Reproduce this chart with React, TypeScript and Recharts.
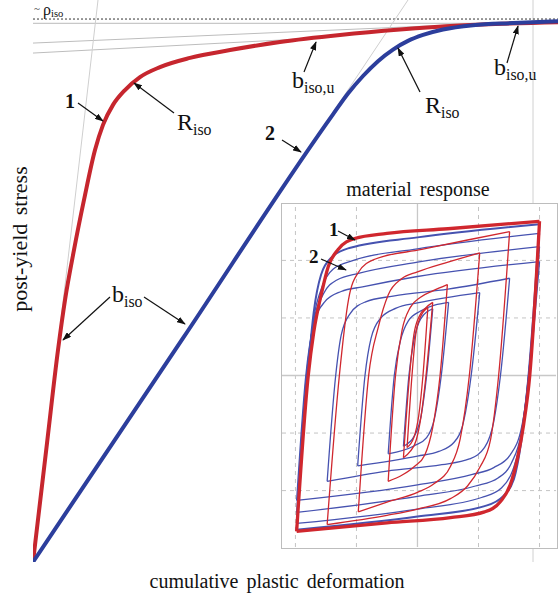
import { LineChart, Line, XAxis, YAxis, ReferenceLine } from 'recharts';

type Pt = [number, number];

// main chart: cumulative plastic deformation (x) vs post-yield stress (y)
const redCurve: Pt[] = [
  [0, 0], [0.56, 4.4], [1.0, 7.85], [1.28, 9.7], [1.64, 11.56], [2.04, 13.41], [2.48, 15.26],
  [2.8, 16.19], [3.2, 16.93], [3.68, 17.48], [4.28, 17.96], [5.08, 18.33], [6.28, 18.67],
  [7.88, 18.96], [9.88, 19.26], [12.28, 19.52], [14.68, 19.72], [17.08, 19.87], [21, 19.99]
];
const blueCurve: Pt[] = [
  [0, 0], [6, 8.29], [12, 16.58], [12.6, 17.35], [13.2, 18.0], [13.8, 18.55], [14.4, 18.98],
  [15.0, 19.3], [15.6, 19.52], [16.4, 19.72], [17.6, 19.88], [19.2, 19.96], [21, 20.03]
];
const tangentA: Pt[] = [[0, 19.22], [21, 20.06]];
const tangentB: Pt[] = [[0, 18.85], [10.68, 19.37]];
const tangentC: Pt[] = [[0, 0], [2.6, 20.815]];
const tangentD: Pt[] = [[0, 0], [15, 20.815]];
const rhoIso = 20.11;
const satLevel = 19.95;
const xTicks = [1, 2, 3, 4, 5, 6, 7, 8, 9, 10, 11, 12, 13, 14, 15, 16, 17, 18, 19, 20];
const yTicks = [1, 2, 3, 4, 5, 6, 7, 8, 9, 10, 11, 12, 13, 14, 15, 16, 17, 18, 19, 20];

// inset: hysteresis loops, upper (loading) and lower (unloading) branches
const r1Up: Pt[] = [[-1.98, -2.71], [-1.79, 0], [-1.7, 0.75], [-1.57, 1.44], [-1.46, 1.9], [-1.3, 2.19], [-1.03, 2.38], [-0.5, 2.47], [0.5, 2.55], [2.0, 2.68]];
const r1Dn: Pt[] = [[-1.98, -2.71], [-0.5, -2.56], [0.54, -2.47], [1.1, -2.37], [1.36, -2.19], [1.52, -1.9], [1.64, -1.43], [1.74, -0.85], [1.84, 0], [2.0, 2.68]];
const r2Up: Pt[] = [[-1.48, -2.59], [-1.28, 0], [-1.13, 1.32], [-0.97, 1.79], [-0.7, 2.02], [0.07, 2.19], [0.8, 2.35], [1.51, 2.5]];
const r2Dn: Pt[] = [[-1.48, -2.59], [-0.5, -2.43], [0, -2.32], [0.54, -2.14], [0.82, -1.92], [1.02, -1.6], [1.2, -1.1], [1.33, 0], [1.51, 2.5]];
const r3Up: Pt[] = [[-0.97, -2.37], [-0.8, 0], [-0.64, 0.85], [-0.48, 1.4], [-0.26, 1.68], [0, 1.8], [0.5, 1.97], [1.02, 2.13]];
const r3Dn: Pt[] = [[-0.97, -2.37], [-0.5, -2.2], [0, -2.03], [0.27, -1.88], [0.54, -1.58], [0.7, -1.1], [0.85, 0], [1.02, 2.13]];
const r4Up: Pt[] = [[-0.48, -1.84], [-0.36, 0], [-0.25, 0.8], [-0.12, 1.18], [0.05, 1.36], [0.25, 1.47], [0.49, 1.58]];
const r4Dn: Pt[] = [[-0.48, -1.84], [-0.25, -1.73], [-0.05, -1.58], [0.12, -1.38], [0.25, -0.9], [0.37, 0], [0.49, 1.58]];
const r5Up: Pt[] = [[-0.23, -1.43], [-0.13, 0], [-0.06, 0.7], [0.03, 1.03], [0.13, 1.17], [0.25, 1.27]];
const r5Dn: Pt[] = [[-0.23, -1.43], [-0.12, -1.32], [-0.02, -1.12], [0.06, -0.7], [0.14, 0], [0.25, 1.27]];
const r6Up: Pt[] = [[-0.17, -1.25], [-0.09, 0], [-0.03, 0.7], [0.05, 1.02], [0.17, 1.18]];
const r6Dn: Pt[] = [[-0.17, -1.25], [-0.06, -1.08], [0.02, -0.7], [0.09, 0], [0.17, 1.18]];

const b1Up: Pt[] = [[-1.98, -2.68], [-1.8, 0], [-1.7, 1.1], [-1.58, 1.75], [-1.4, 2.06], [-1.1, 2.22], [0, 2.4], [2.0, 2.63]];
const b1Dn: Pt[] = [[-1.98, -2.68], [0, -2.45], [1.1, -2.27], [1.4, -2.1], [1.58, -1.8], [1.7, -1.15], [1.82, 0], [2.0, 2.63]];
const b2Up: Pt[] = [[-1.98, -2.57], [-1.81, 0], [-1.7, 1.0], [-1.56, 1.55], [-1.38, 1.85], [-1.05, 2.0], [0, 2.2], [2.0, 2.47]];
const b2Dn: Pt[] = [[-1.98, -2.57], [0, -2.32], [1.05, -2.12], [1.38, -1.95], [1.56, -1.65], [1.7, -1.08], [1.82, 0], [2.0, 2.47]];
const b3Up: Pt[] = [[-1.98, -2.38], [-1.82, 0], [-1.7, 0.95], [-1.54, 1.42], [-1.32, 1.66], [-0.95, 1.78], [0, 1.97], [2.0, 2.24]];
const b3Dn: Pt[] = [[-1.98, -2.38], [0, -2.1], [0.95, -1.92], [1.32, -1.78], [1.54, -1.52], [1.7, -1.0], [1.82, 0], [2.0, 2.24]];
const b4Up: Pt[] = [[-1.98, -2.17], [-1.83, 0], [-1.71, 0.85], [-1.52, 1.28], [-1.25, 1.46], [-0.9, 1.54], [0, 1.72], [2.0, 1.98]];
const b4Dn: Pt[] = [[-1.98, -2.17], [0, -1.9], [0.9, -1.72], [1.25, -1.6], [1.52, -1.38], [1.71, -0.88], [1.83, 0], [2.0, 1.98]];
const b5Up: Pt[] = [[-1.48, -1.84], [-1.34, 0], [-1.25, 0.7], [-1.1, 1.08], [-0.85, 1.28], [-0.4, 1.38], [0.5, 1.5], [1.51, 1.69]];
const b5Dn: Pt[] = [[-1.48, -1.84], [-0.5, -1.66], [0.4, -1.55], [0.85, -1.45], [1.1, -1.25], [1.25, -0.8], [1.36, 0], [1.51, 1.69]];
const b6Up: Pt[] = [[-0.98, -1.57], [-0.86, 0], [-0.76, 0.65], [-0.6, 1.0], [-0.35, 1.17], [0, 1.26], [1.02, 1.44]];
const b6Dn: Pt[] = [[-0.98, -1.57], [0, -1.4], [0.35, -1.32], [0.6, -1.16], [0.76, -0.78], [0.88, 0], [1.02, 1.44]];
const b7Up: Pt[] = [[-0.48, -1.36], [-0.38, 0], [-0.28, 0.6], [-0.15, 0.95], [0.05, 1.12], [0.51, 1.27]];
const b7Dn: Pt[] = [[-0.48, -1.36], [-0.05, -1.22], [0.15, -1.08], [0.28, -0.74], [0.39, 0], [0.51, 1.27]];
const b8Up: Pt[] = [[-0.23, -1.23], [-0.14, 0], [-0.06, 0.6], [0.05, 0.98], [0.25, 1.16]];
const b8Dn: Pt[] = [[-0.23, -1.23], [-0.05, -1.05], [0.06, -0.7], [0.15, 0], [0.25, 1.16]];

const insetGrid = [-2, -1, 1, 2];

const thinRed = [r2Up, r2Dn, r3Up, r3Dn, r4Up, r4Dn, r5Up, r5Dn, r6Up, r6Dn];
const thinBlue = [b2Up, b2Dn, b3Up, b3Dn, b4Up, b4Dn, b5Up, b5Dn, b6Up, b6Dn, b7Up, b7Dn, b8Up, b8Dn];

const RED = '#c6262e';
const BLUE = '#2c3e9c';
const INSET_RED = '#d0272e';
const INSET_BLUE = '#4652b0';
const SERIF = "'Liberation Serif', 'Times New Roman', serif";

const toXY = (pts: Pt[]) => pts.map(([x, y]) => ({ x, y }));

// annotation arrows, in page pixels
const arrows = [
  [78, 103, 103, 121],
  [174, 113, 134, 83],
  [304, 72, 316, 42],
  [420, 92, 398, 48],
  [507, 63, 518, 26],
  [282, 140, 301, 152],
  [110, 297, 63, 340],
  [144, 297, 185, 324],
  [338, 231, 355, 240],
  [321, 259, 346, 270]
];

const Sub = ({ x, y, main, sub, size = 24, drop = 5 }: { x: number; y: number; main: string; sub: string; size?: number; drop?: number }) => (
  <text x={x} y={y} fontSize={size} fill="#111">
    {main}
    <tspan fontSize={size * 0.66} dy={drop}>{sub}</tspan>
  </text>
);

const line = (pts: Pt[], key: string, color: string, width: number, type: 'linear' | 'monotone' = 'monotone') => (
  <Line
    key={key}
    data={toXY(pts)}
    dataKey="y"
    type={type}
    stroke={color}
    strokeWidth={width}
    dot={false}
    activeDot={false}
    isAnimationActive={false}
  />
);

export default function App() {
  return (
    <div style={{ position: 'absolute', left: 0, top: 0, width: 558, height: 596, background: '#fff', overflow: 'hidden' }}>
      <LineChart width={558} height={596} margin={{ top: 0, right: 0, bottom: 34, left: 33 }}>
        <XAxis
          type="number"
          dataKey="x"
          domain={[0, 21]}
          ticks={xTicks}
          allowDataOverflow
          height={0}
          mirror
          tick={false}
          tickSize={3}
          axisLine={{ stroke: '#8c8c8c', strokeWidth: 1.3 }}
          tickLine={{ stroke: '#8c8c8c' }}
        />
        <YAxis
          type="number"
          dataKey="y"
          domain={[0, 20.815]}
          ticks={yTicks}
          allowDataOverflow
          width={0}
          mirror
          tick={false}
          tickSize={3}
          axisLine={{ stroke: '#8c8c8c', strokeWidth: 1.3 }}
          tickLine={{ stroke: '#8c8c8c' }}
        />
        <ReferenceLine x={20} stroke="#d0d0d0" />
        <ReferenceLine y={satLevel} stroke="#c8c8c8" strokeWidth={1.2} />
        <ReferenceLine y={rhoIso} stroke="#333" strokeDasharray="2 2" />
        {line(tangentA, 'tA', '#bdbdbd', 1, 'linear')}
        {line(tangentB, 'tB', '#bdbdbd', 1, 'linear')}
        {line(tangentC, 'tC', '#cfcfcf', 1, 'linear')}
        {line(tangentD, 'tD', '#cfcfcf', 1, 'linear')}
        {line(redCurve, 'red', RED, 4)}
        {line(blueCurve, 'blue', BLUE, 4)}
      </LineChart>

      <div
        style={{
          position: 'absolute',
          left: 281,
          top: 203,
          width: 277,
          height: 346,
          boxSizing: 'border-box',
          border: '1.5px solid #bdbdbd',
          background: '#fff'
        }}
      >
        <LineChart width={274} height={343} margin={{ top: 0, right: 0, bottom: 0, left: 0 }}>
          <XAxis type="number" dataKey="x" domain={[-2.22, 2.27]} hide allowDataOverflow />
          <YAxis type="number" dataKey="y" domain={[-2.98, 2.98]} hide allowDataOverflow />
          {insetGrid.map((v) => (
            <ReferenceLine key={'gx' + v} x={v} stroke="#c4c4c4" strokeDasharray="4 4" />
          ))}
          {insetGrid.map((v) => (
            <ReferenceLine key={'gy' + v} y={v} stroke="#c4c4c4" strokeDasharray="4 4" />
          ))}
          <ReferenceLine x={0} stroke="#c8c8c8" strokeWidth={1.3} />
          <ReferenceLine y={0} stroke="#c8c8c8" strokeWidth={1.3} />
          {thinBlue.map((b, i) => line(b, 'b' + i, INSET_BLUE, 1.3))}
          {thinRed.map((r, i) => line(r, 'r' + i, INSET_RED, 1.3))}
          {line(b1Up, 'b1u', INSET_BLUE, 2)}
          {line(b1Dn, 'b1d', INSET_BLUE, 2)}
          {line(r1Up, 'r1u', INSET_RED, 3.3)}
          {line(r1Dn, 'r1d', INSET_RED, 3.3)}
        </LineChart>
      </div>

      <svg width={558} height={596} style={{ position: 'absolute', left: 0, top: 0, pointerEvents: 'none' }} fontFamily={SERIF}>
        <defs>
          <marker id="ah" viewBox="0 0 10 7" refX="9" refY="3.5" markerWidth="9" markerHeight="6.3" markerUnits="userSpaceOnUse" orient="auto">
            <path d="M0,0 L10,3.5 L0,7 z" fill="#111" />
          </marker>
        </defs>
        {arrows.map(([x1, y1, x2, y2], i) => (
          <line key={i} x1={x1} y1={y1} x2={x2} y2={y2} stroke="#111" strokeWidth={1.2} markerEnd="url(#ah)" />
        ))}
        <text x={34} y={12} fontSize={11} fill="#333">~</text>
        <Sub x={43} y={15} main="ρ" sub="iso" size={16} drop={2} />
        <text x={65} y={108} fontSize={20} fontWeight="bold" fill="#111">1</text>
        <text x={265} y={140} fontSize={20} fontWeight="bold" fill="#111">2</text>
        <Sub x={177} y={130} main="R" sub="iso" />
        <Sub x={425} y={113} main="R" sub="iso" />
        <Sub x={292} y={88} main="b" sub="iso,u" />
        <Sub x={494} y={75} main="b" sub="iso,u" />
        <Sub x={112} y={302} main="b" sub="iso" />
        <text x={329} y={236} fontSize={19} fontWeight="bold" fill="#111">1</text>
        <text x={309} y={263} fontSize={19} fontWeight="bold" fill="#111">2</text>
        <text x={418} y={196} fontSize={20} textAnchor="middle" fill="#111" wordSpacing={3}>material response</text>
        <text x={277} y={588} fontSize={20} textAnchor="middle" fill="#111" wordSpacing={3}>cumulative plastic deformation</text>
        <text transform="translate(27,239) rotate(-90)" fontSize={22} textAnchor="middle" fill="#111" wordSpacing={3}>post-yield stress</text>
      </svg>
    </div>
  );
}
